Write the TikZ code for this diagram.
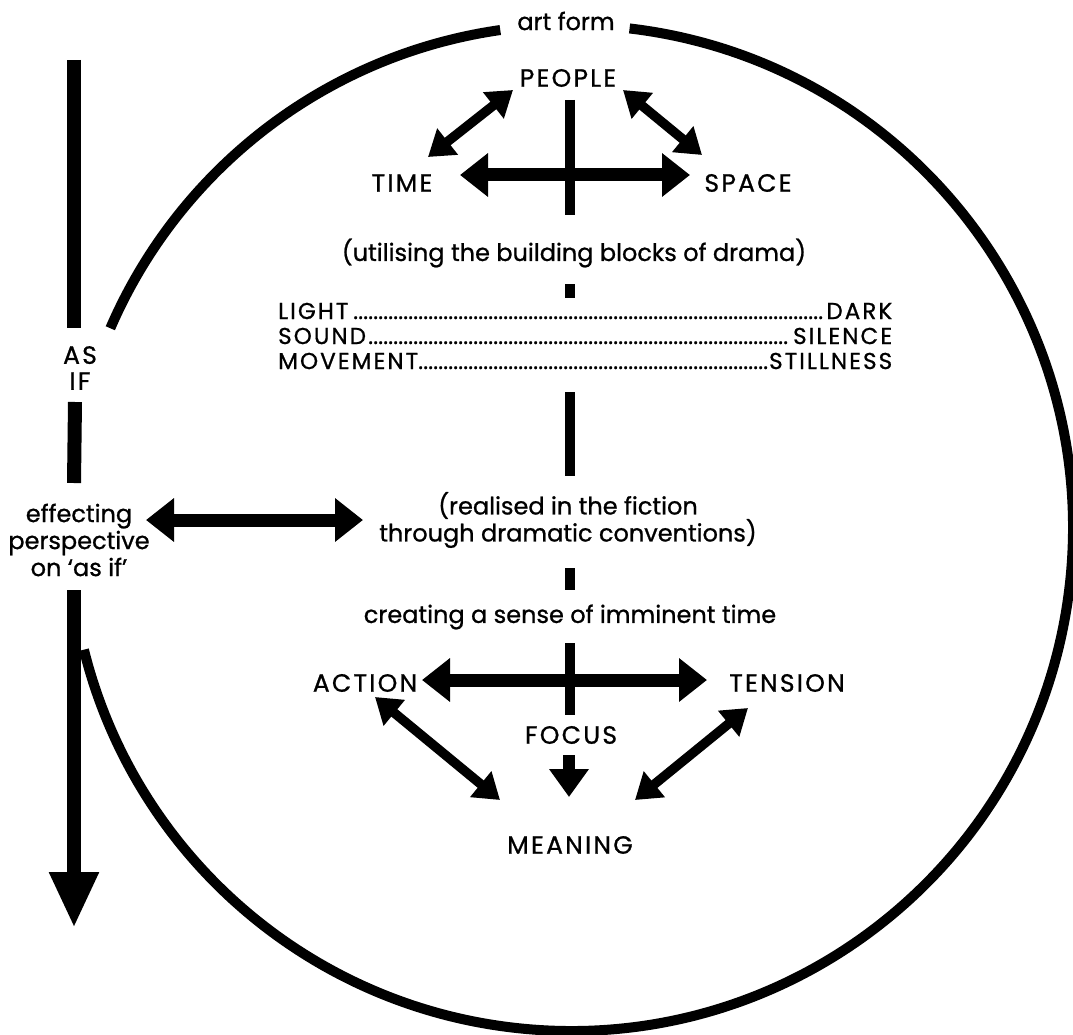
\documentclass[tikz,border=0pt]{standalone}
\usepackage{fontspec}
\setmainfont{Poppins}[FakeBold=0.9]
\newfontfamily\capsfont{Poppins}[FakeBold=0.9, LetterSpace=9]
\usetikzlibrary{arrows.meta}
% a row of the form  LEFT ........ RIGHT  of fixed width
\newcommand{\dotrow}[2]{\hbox to 614pt{#1\leaders\hbox to 5pt{\hss.\hss}\hfill#2}}
\begin{document}
\begin{tikzpicture}[x=1pt,y=-1pt,
  lbl/.style={font=\fontsize{24}{27}\selectfont, inner sep=0pt, align=center},
  capslbl/.style={font=\capsfont\fontsize{25}{26}\selectfont, inner sep=0pt, align=center},
  rows/.style={font=\capsfont\fontsize{23}{25}\selectfont, inner sep=0pt, align=left},
  rim/.style={line width=10pt},
  bar/.style={line width=10pt},
  side/.style={line width=14pt},
  big/.style={line width=13pt, {Triangle[width=42pt,length=28pt]}-{Triangle[width=42pt,length=28pt]}},
  diag/.style={line width=9.5pt, {Triangle[width=32pt,length=25pt]}-{Triangle[width=32pt,length=25pt]}},
  down/.style={line width=12pt, -{Triangle[width=38pt,length=28pt]}},
  fall/.style={line width=14pt, -{Triangle[width=46pt,length=56pt]}},
]
\useasboundingbox (0,0) rectangle (1073,1035);

% the enclosing circle, open at the top and on the left
\coordinate (ctr) at (571,528);
\draw[rim] ([shift={(203.4:502 and 503)}]ctr) arc[start angle=203.4, end angle=261.9, x radius=502, y radius=503];
\draw[rim] ([shift={(276.7:502 and 503)}]ctr) arc[start angle=276.7, end angle=526, x radius=502, y radius=503];

% labels
\node[lbl] (artform) at (566,21) {art form};
\node[capslbl] (people) at (568,78) {PEOPLE};
\node[capslbl] (time) at (402,183) {TIME};
\node[capslbl] (space) at (748,183) {SPACE};
\node[lbl] (blocks) at (574,253) {(utilising the building blocks of drama)};
\node[rows, anchor=west] (poles) at (278,336) {\dotrow{LIGHT}{DARK}\\\dotrow{SOUND}{SILENCE}\\\dotrow{MOVEMENT}{STILLNESS}};
\node[lbl] (fiction) at (568,520) {(realised in the fiction\\through dramatic conventions)};
\node[lbl] (imminent) at (570,617) {creating a sense of imminent time};
\node[capslbl] (action) at (365,683) {ACTION};
\node[capslbl] (tension) at (787,683) {TENSION};
\node[capslbl] (focus) at (571,735) {FOCUS};
\node[capslbl] (meaning) at (570,845) {MEANING};
\node[capslbl] (asif) at (80,368) {AS\\IF};
\node[lbl] (effect) at (79,540) {effecting\\perspective\\on `as if'};

% central spine
\coordinate (s1a) at (570,100); \coordinate (s1b) at (570,215);
\coordinate (s2a) at (570,284); \coordinate (s2b) at (570,298);
\coordinate (s3a) at (570,392); \coordinate (s3b) at (570,476);
\coordinate (s4a) at (570,568); \coordinate (s4b) at (570,590);
\coordinate (s5a) at (570,643); \coordinate (s5b) at (570,715);
\draw[bar] (s1a) -- (s1b);
\draw[bar] (s2a) -- (s2b);
\draw[bar] (s3a) -- (s3b);
\draw[bar] (s4a) -- (s4b);
\draw[bar] (s5a) -- (s5b);

% arrows of the upper triangle
\coordinate (pt) at (513,90);  \coordinate (tp) at (428,157);
\coordinate (ps) at (623,90);  \coordinate (sp) at (702,155);
\coordinate (ts) at (460,175); \coordinate (st) at (690,175);
\draw[diag] (pt) -- (tp);
\draw[diag] (ps) -- (sp);
\draw[big] (ts) -- (st);

% arrows of the lower triangle
\coordinate (at) at (422,680); \coordinate (ta) at (707,680);
\coordinate (am) at (375,697); \coordinate (ma) at (500,800);
\coordinate (tm) at (748,708); \coordinate (mt) at (635,800);
\coordinate (fm) at (569,755); \coordinate (mf) at (569,797);
\draw[big] (at) -- (ta);
\draw[diag] (am) -- (ma);
\draw[diag] (tm) -- (mt);
\draw[down] (fm) -- (mf);

% perspective arrow
\coordinate (ef) at (146,520); \coordinate (fe) at (363,520);
\draw[big] (ef) -- (fe);

% the 'as if' line down the left side
\coordinate (v1a) at (74,60);  \coordinate (v1b) at (74,328);
\coordinate (v2a) at (75,402); \coordinate (v2b) at (74,483);
\coordinate (v3a) at (74,590); \coordinate (v3b) at (74,928);
\draw[side] (v1a) -- (v1b);
\draw[side] (v2a) -- (v2b);
\draw[fall] (v3a) -- (v3b);
\end{tikzpicture}
\end{document}
